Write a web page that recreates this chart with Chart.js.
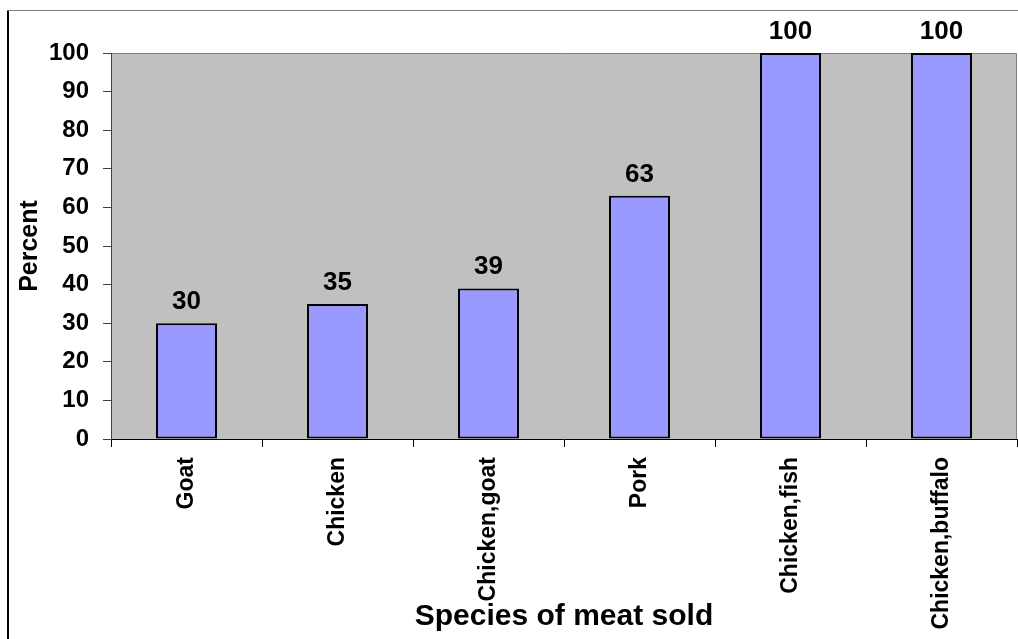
<!DOCTYPE html>
<html>
<head>
<meta charset="utf-8">
<script src="https://cdn.jsdelivr.net/npm/chart.js@4.4.1/dist/chart.umd.min.js"></script>
<style>
  html, body { margin: 0; padding: 0; background: #fff; }
  #wrap { width: 1018px; height: 639px; position: relative; }
</style>
</head>
<body>
<div id="wrap"><canvas id="c" width="1018" height="639"></canvas></div>
<script>
// Share of vendors selling each species combination
const categories = ['Goat', 'Chicken', 'Chicken,goat', 'Pork', 'Chicken,fish', 'Chicken,buffalo'];
const percentValues = [30, 35, 39, 63, 100, 100];
const yTicks = [0, 10, 20, 30, 40, 50, 60, 70, 80, 90, 100];

const FONT = "'Liberation Sans', Arial, sans-serif";

// Grey plot background with a thin frame on top/right, plus the outer figure border
const plotBackground = {
  id: 'plotBackground',
  beforeDraw(chart) {
    const { ctx, chartArea: a } = chart;
    ctx.save();
    ctx.fillStyle = '#fff';
    ctx.fillRect(0, 0, chart.width, chart.height);
    // outer frame
    ctx.fillStyle = '#000';
    ctx.fillRect(7, 10, 2, chart.height - 10);
    ctx.fillStyle = '#808080';
    ctx.fillRect(7, 10, chart.width - 7, 1);
    // plot area
    ctx.fillStyle = '#C0C0C0';
    ctx.fillRect(a.left, a.top, a.right - a.left, a.bottom - a.top);
    ctx.strokeStyle = '#808080';
    ctx.lineWidth = 1;
    ctx.beginPath();
    ctx.moveTo(a.left, a.top + 0.5);
    ctx.lineTo(a.right - 0.5, a.top + 0.5);
    ctx.lineTo(a.right - 0.5, a.bottom);
    ctx.stroke();
    ctx.restore();
  }
};

// Value labels above each bar
const valueLabels = {
  id: 'valueLabels',
  afterDatasetsDraw(chart) {
    const { ctx } = chart;
    const meta = chart.getDatasetMeta(0);
    const data = chart.data.datasets[0].data;
    ctx.save();
    ctx.font = "bold 26px " + FONT;
    ctx.fillStyle = '#000';
    ctx.textAlign = 'center';
    ctx.textBaseline = 'alphabetic';
    meta.data.forEach((bar, i) => {
      ctx.fillText(String(data[i]), bar.x, bar.y - 14);
    });
    ctx.restore();
  }
};

new Chart(document.getElementById('c'), {
  type: 'bar',
  data: {
    labels: categories,
    datasets: [{
      data: percentValues,
      backgroundColor: '#9999FF',
      borderColor: '#000',
      borderWidth: 2,
      borderSkipped: false,
      barPercentage: 0.404,
      categoryPercentage: 1.0
    }]
  },
  options: {
    responsive: false,
    animation: false,
    devicePixelRatio: 1,
    layout: { padding: { left: 0, top: 53, right: 1, bottom: 0 } },
    plugins: {
      legend: { display: false },
      tooltip: { enabled: false }
    },
    scales: {
      x: {
        grid: {
          display: true,
          drawOnChartArea: false,
          drawTicks: true,
          tickLength: 8,
          color: '#000',
          offset: true
        },
        border: { display: true, color: '#000', width: 1 },
        ticks: {
          maxRotation: 90,
          minRotation: 90,
          padding: 10,
          color: '#000',
          font: { family: FONT, size: 23, weight: 'bold' }
        },
        title: {
          display: true,
          text: 'Species of meat sold',
          color: '#000',
          font: { family: FONT, size: 30, weight: 'bold' },
          padding: { top: 0, bottom: 4 }
        },
        afterFit(scale) { scale.height = 200; }
      },
      y: {
        min: 0,
        max: 100,
        afterBuildTicks(scale) { scale.ticks = yTicks.map(v => ({ value: v })); },
        grid: {
          display: true,
          drawOnChartArea: false,
          drawTicks: true,
          tickLength: 8,
          color: '#404040'
        },
        border: { display: true, color: '#404040', width: 1 },
        ticks: {
          padding: 14,
          color: '#000',
          font: { family: FONT, size: 24, weight: 'bold' }
        },
        title: {
          display: true,
          text: 'Percent',
          color: '#000',
          font: { family: FONT, size: 25, weight: 'bold' },
          padding: { top: 15, bottom: 0 }
        },
        afterFit(scale) { scale.width = 111; }
      }
    }
  },
  plugins: [plotBackground, valueLabels]
});
</script>
</body>
</html>
